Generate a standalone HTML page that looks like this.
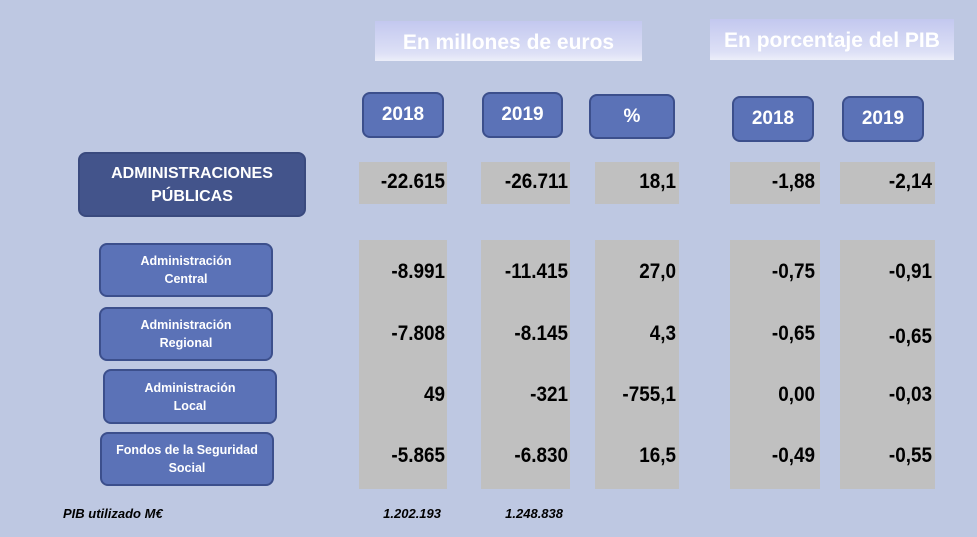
<!DOCTYPE html>
<html><head><meta charset="utf-8"><style>
body{margin:0;width:977px;height:537px;background:#bec8e2;position:relative;overflow:hidden;font-family:"Liberation Sans Narrow","Liberation Sans",sans-serif;}
div{position:absolute;box-sizing:border-box;}
.hdr{background:linear-gradient(#c3c8ef,#dde0f6 80%,#eceef9);color:#fff;font-weight:bold;font-size:21px;display:flex;align-items:center;justify-content:center;padding-top:3px;}
.btn{background:#5b72b7;border:2px solid #3c4f8c;border-radius:8px;color:#fff;font-weight:bold;font-size:19px;display:flex;align-items:center;justify-content:center;text-align:center;}
.sub{font-size:12.5px;line-height:18px;}
.gray{background:#c0c0c0;}
.num{font-weight:bold;font-size:21px;color:#000;text-align:right;width:120px;transform:scaleX(0.9);transform-origin:right center;}
.it{font-style:italic;font-weight:bold;font-size:13px;color:#000;}
</style></head><body>
<div class="hdr" style="left:375px;top:21px;width:267px;height:40px;">En millones de euros</div>
<div class="hdr" style="left:710px;top:19px;width:244px;height:41px;">En porcentaje del PIB</div>

<div class="btn" style="left:362px;top:92px;width:82px;height:46px;">2018</div>
<div class="btn" style="left:482px;top:92px;width:81px;height:46px;">2019</div>
<div class="btn" style="left:589px;top:94px;width:86px;height:45px;">%</div>
<div class="btn" style="left:732px;top:96px;width:82px;height:46px;">2018</div>
<div class="btn" style="left:842px;top:96px;width:82px;height:46px;">2019</div>

<div class="btn" style="left:78px;top:152px;width:228px;height:65px;background:#43548b;border-color:#3a4a7e;font-size:16px;line-height:23px;">ADMINISTRACIONES<br>PÚBLICAS</div>

<div class="gray" style="left:359px;top:162px;width:88px;height:42px;"></div>
<div class="gray" style="left:481px;top:162px;width:89px;height:42px;"></div>
<div class="gray" style="left:595px;top:162px;width:84px;height:42px;"></div>
<div class="gray" style="left:730px;top:162px;width:90px;height:42px;"></div>
<div class="gray" style="left:840px;top:162px;width:95px;height:42px;"></div>

<div class="gray" style="left:359px;top:240px;width:88px;height:249px;"></div>
<div class="gray" style="left:481px;top:240px;width:89px;height:249px;"></div>
<div class="gray" style="left:595px;top:240px;width:84px;height:249px;"></div>
<div class="gray" style="left:730px;top:240px;width:90px;height:249px;"></div>
<div class="gray" style="left:840px;top:240px;width:95px;height:249px;"></div>

<div class="btn sub" style="left:99px;top:243px;width:174px;height:54px;">Administración<br>Central</div>
<div class="btn sub" style="left:99px;top:307px;width:174px;height:54px;">Administración<br>Regional</div>
<div class="btn sub" style="left:103px;top:369px;width:174px;height:55px;">Administración<br>Local</div>
<div class="btn sub" style="left:100px;top:432px;width:174px;height:54px;">Fondos de la Seguridad<br>Social</div>

<div class="it" style="left:63px;top:506px;">PIB utilizado M€</div>
<div class="it" style="left:341px;top:506px;width:100px;text-align:right;">1.202.193</div>
<div class="it" style="left:463px;top:506px;width:100px;text-align:right;">1.248.838</div>

<script>
const rows=[
 ["-22.615","-26.711","18,1","-1,88","-2,14"],
 ["-8.991","-11.415","27,0","-0,75","-0,91"],
 ["-7.808","-8.145","4,3","-0,65","-0,65"],
 ["49","-321","-755,1","0,00","-0,03"],
 ["-5.865","-6.830","16,5","-0,49","-0,55"]
];
const rights=[445,568,676,815,932];
const tops=[170,260,322,383,444];
rows.forEach((r,i)=>r.forEach((v,j)=>{
 const d=document.createElement('div');
 
 
 d.className='num';
 d.style.left=(rights[j]-120)+'px';
 d.style.top=(tops[i]+(i==2&&j==4?3:0))+'px';
 d.textContent=v;
 document.body.appendChild(d);
}));
</script>
</body></html>
